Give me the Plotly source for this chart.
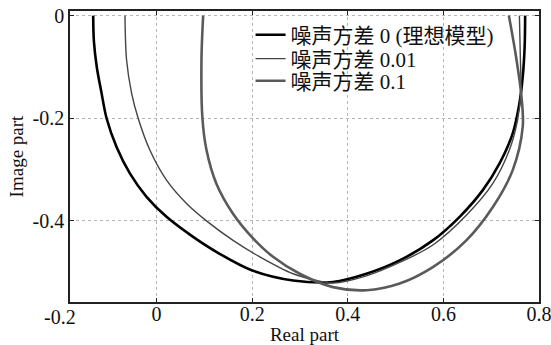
import plotly.graph_objects as go

# Data (real part, imaginary part)
names = ["噪声方差 0 (理想模型)", "噪声方差 0.01", "噪声方差 0.1"]

x_ideal = [-0.1325, -0.131, -0.125, -0.115, -0.1045, -0.0836, -0.0558, -0.0209, 0.0209,
           0.0765, 0.132, 0.199, 0.2855, 0.369, 0.439, 0.5085, 0.578, 0.634, 0.6825,
           0.7175, 0.745, 0.759, 0.766, 0.770, 0.771]
y_ideal = [0.0, -0.050, -0.100, -0.151, -0.200, -0.256, -0.3075, -0.353, -0.392,
           -0.431, -0.464, -0.496, -0.516, -0.519, -0.503, -0.477, -0.438, -0.392, -0.340,
           -0.288, -0.2295, -0.171, -0.119, -0.060, 0.0]

x_n001 = [-0.066, -0.0627, -0.0522, -0.0384, -0.014, 0.0209, 0.0627, 0.1045, 0.160,
          0.216, 0.2855, 0.330, 0.369, 0.439, 0.5085, 0.578, 0.648, 0.7035, 0.738,
          0.755, 0.762, 0.761, 0.759]
y_n001 = [0.0, -0.086, -0.151, -0.200, -0.262, -0.3206, -0.366, -0.400, -0.438,
          -0.470, -0.503, -0.515, -0.521, -0.507, -0.481, -0.447, -0.389, -0.327, -0.262,
          -0.204, -0.150, -0.080, 0.0]

x_n01 = [0.0975, 0.094, 0.096, 0.1045, 0.125, 0.160, 0.199, 0.2437, 0.2995, 0.369,
         0.439, 0.5085, 0.578, 0.648, 0.7035, 0.745, 0.766, 0.763, 0.752, 0.737]
y_n01 = [0.0, -0.086, -0.200, -0.262, -0.327, -0.386, -0.431, -0.470, -0.503, -0.529,
         -0.535, -0.522, -0.490, -0.438, -0.373, -0.301, -0.2165, -0.155, -0.080, 0.0]

x_ticks = [0, 0.2, 0.4, 0.6, 0.8]
x_ticktext = ["0", "0.2", "0.4", "0.6", "0.8"]
y_ticks = [0, -0.2, -0.4]
y_ticktext = ["0", "-0.2", "-0.4"]

serif = "Liberation Serif, Times New Roman, Noto Sans CJK SC, serif"
txt = "#111111"

fig = go.Figure()
fig.add_trace(go.Scatter(x=x_ideal, y=y_ideal, mode="lines", name=names[0], legend="legend",
                         line=dict(color="#000000", width=2.6, shape="spline", smoothing=0.9)))
fig.add_trace(go.Scatter(x=x_n001, y=y_n001, mode="lines", name=names[1], legend="legend2",
                         line=dict(color="#444444", width=1.4, shape="spline", smoothing=0.9)))
fig.add_trace(go.Scatter(x=x_n01, y=y_n01, mode="lines", name=names[2], legend="legend3",
                         line=dict(color="#5a5a5a", width=2.6, shape="spline", smoothing=0.9)))

axis_common = dict(
    showline=True, linecolor="#222222", linewidth=1.5, mirror="ticks",
    ticks="inside", ticklen=4, tickcolor="#222222", tickwidth=1,
    showgrid=True, gridcolor="#b5b5b5", griddash="dot", gridwidth=1,
    zeroline=False, tickmode="array", automargin=False,
    ticklabeloverflow="allow",
    tickfont=dict(family=serif, size=20, color=txt),
)

fig.update_xaxes(range=[-0.181, 0.8], tickvals=x_ticks, ticktext=x_ticktext,
                 ticklabelstandoff=-7,
                 title=dict(text="Real part", font=dict(family=serif, size=19, color=txt),
                            standoff=6),
                 **axis_common)
fig.update_yaxes(range=[-0.558, 0.009], tickvals=y_ticks, ticktext=y_ticktext,
                 title=dict(text="Image part", font=dict(family=serif, size=19, color=txt),
                            standoff=4),
                 **axis_common)

fig.add_annotation(text="-0.2", xref="paper", yref="paper", x=-0.021, y=0,
                   xanchor="center", yanchor="top", yshift=-2, showarrow=False,
                   font=dict(family=serif, size=20, color=txt))

leg_common = dict(x=0.385, xanchor="left", yanchor="middle",
                  bgcolor="rgba(0,0,0,0)", borderwidth=0,
                  font=dict(family=serif, size=21, color=txt))

fig.update_layout(
    width=551, height=345,
    margin=dict(l=70, r=12, t=11, b=43),
    paper_bgcolor="white", plot_bgcolor="white",
    showlegend=True,
    legend=dict(y=0.917, **leg_common),
    legend2=dict(y=0.835, **leg_common),
    legend3=dict(y=0.759, **leg_common),
)

fig.write_html("out.html", config={"displayModeBar": False},
               post_script="document.body.style.margin='0';document.body.style.padding='0';")
